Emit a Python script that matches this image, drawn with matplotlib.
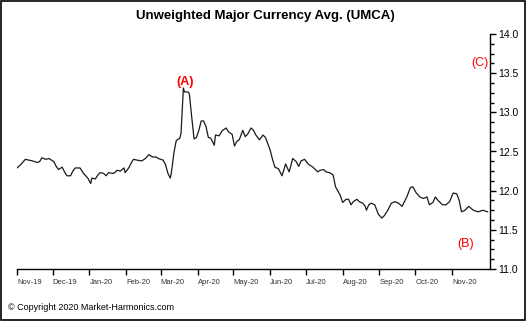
import matplotlib
matplotlib.use("Agg")
import matplotlib.pyplot as plt
import matplotlib.dates as mdates
from matplotlib.ticker import MultipleLocator
import pandas as pd

plt.rcParams['font.family'] = ['Liberation Sans', 'DejaVu Sans']

title = "Unweighted Major Currency Avg. (UMCA)"
copyright_text = "\u00a9 Copyright 2020 Market-Harmonics.com"

dates = [
    "2019-11-01", "2019-11-04", "2019-11-08", "2019-11-11", "2019-11-14", "2019-11-18",
    "2019-11-20", "2019-11-22", "2019-11-25", "2019-11-28", "2019-12-02", "2019-12-04",
    "2019-12-06", "2019-12-09", "2019-12-11", "2019-12-13", "2019-12-16", "2019-12-18",
    "2019-12-20", "2019-12-24", "2019-12-27", "2019-12-30", "2019-12-31", "2020-01-02",
    "2020-01-03", "2020-01-06", "2020-01-08", "2020-01-10", "2020-01-13", "2020-01-15",
    "2020-01-17", "2020-01-21", "2020-01-23", "2020-01-24", "2020-01-27", "2020-01-30",
    "2020-01-31", "2020-02-03", "2020-02-05", "2020-02-07", "2020-02-10", "2020-02-14",
    "2020-02-17", "2020-02-20", "2020-02-23", "2020-02-26", "2020-02-28", "2020-03-03",
    "2020-03-05", "2020-03-07", "2020-03-09", "2020-03-10", "2020-03-12", "2020-03-14",
    "2020-03-17", "2020-03-18", "2020-03-20", "2020-03-21", "2020-03-24", "2020-03-25",
    "2020-03-27", "2020-03-29", "2020-03-31", "2020-04-02", "2020-04-04", "2020-04-06",
    "2020-04-08", "2020-04-10", "2020-04-12", "2020-04-15", "2020-04-16", "2020-04-19",
    "2020-04-22", "2020-04-25", "2020-04-27", "2020-04-30", "2020-05-02", "2020-05-04",
    "2020-05-06", "2020-05-09", "2020-05-11", "2020-05-13", "2020-05-16", "2020-05-18",
    "2020-05-20", "2020-05-23", "2020-05-26", "2020-05-28", "2020-06-01", "2020-06-03",
    "2020-06-05", "2020-06-08", "2020-06-11", "2020-06-14", "2020-06-17", "2020-06-20",
    "2020-06-23", "2020-06-25", "2020-06-27", "2020-06-30", "2020-07-03", "2020-07-07",
    "2020-07-11", "2020-07-13", "2020-07-16", "2020-07-18", "2020-07-21", "2020-07-24",
    "2020-07-26", "2020-07-30", "2020-08-01", "2020-08-04", "2020-08-06", "2020-08-08",
    "2020-08-10", "2020-08-13", "2020-08-15", "2020-08-18", "2020-08-20", "2020-08-21",
    "2020-08-23", "2020-08-25", "2020-08-28", "2020-08-31", "2020-09-03", "2020-09-05",
    "2020-09-08", "2020-09-11", "2020-09-14", "2020-09-17", "2020-09-20", "2020-09-24",
    "2020-09-27", "2020-09-29", "2020-10-02", "2020-10-05", "2020-10-08", "2020-10-11",
    "2020-10-13", "2020-10-16", "2020-10-18", "2020-10-20", "2020-10-24", "2020-10-27",
    "2020-10-30", "2020-11-02", "2020-11-05", "2020-11-07", "2020-11-09", "2020-11-12",
    "2020-11-15", "2020-11-19", "2020-11-23", "2020-11-27", "2020-12-01",
]

umca = [
    12.29, 12.33, 12.40, 12.39, 12.38, 12.36,
    12.37, 12.42, 12.40, 12.41, 12.37, 12.31,
    12.27, 12.30, 12.24, 12.19, 12.19, 12.25,
    12.29, 12.29, 12.22, 12.17, 12.15, 12.09,
    12.16, 12.15, 12.20, 12.23, 12.22, 12.19,
    12.23, 12.22, 12.24, 12.26, 12.25, 12.29,
    12.23, 12.29, 12.35, 12.40, 12.39, 12.38,
    12.41, 12.46, 12.43, 12.43, 12.41, 12.39,
    12.33, 12.22, 12.16, 12.24, 12.48, 12.64,
    12.67, 12.73, 13.31, 13.26, 13.26, 13.24,
    12.94, 12.66, 12.68, 12.77, 12.89, 12.89,
    12.82, 12.68, 12.67, 12.58, 12.71, 12.70,
    12.77, 12.80, 12.75, 12.72, 12.57, 12.63,
    12.65, 12.77, 12.69, 12.72, 12.80, 12.77,
    12.71, 12.65, 12.71, 12.68, 12.52, 12.40,
    12.30, 12.28, 12.19, 12.34, 12.24, 12.41,
    12.37, 12.31, 12.38, 12.40, 12.34, 12.30,
    12.24, 12.26, 12.27, 12.24, 12.23, 12.20,
    12.05, 11.94, 11.85, 11.89, 11.89, 11.82,
    11.86, 11.89, 11.86, 11.84, 11.80, 11.75,
    11.82, 11.84, 11.82, 11.70, 11.65, 11.68,
    11.75, 11.84, 11.86, 11.84, 11.80, 11.92,
    12.04, 12.05, 11.97, 11.92, 11.90, 11.92,
    11.82, 11.85, 11.92, 11.88, 11.82, 11.82,
    11.86, 11.97, 11.96, 11.88, 11.73, 11.75,
    11.80, 11.75, 11.73, 11.75, 11.73,
]

y_ticks = [11.0, 11.5, 12.0, 12.5, 13.0, 13.5, 14.0]
x_ticks = ["2019-11-01", "2019-12-01", "2020-01-01", "2020-02-01", "2020-03-01",
           "2020-04-01", "2020-05-01", "2020-06-01", "2020-07-01", "2020-08-01",
           "2020-09-01", "2020-10-01", "2020-11-01"]
x_range = ["2019-11-01", "2020-12-03"]
labels = ["(A)", "(B)", "(C)"]

x = pd.to_datetime(dates)

fig = plt.figure(figsize=(5.26, 3.21), dpi=100)
ax = fig.add_axes([17 / 526, 1 - 269 / 321, 473 / 526, 235 / 321])

ax.plot(x, umca, color="#1a1a1a", linewidth=0.9)

ax.set_xlim(pd.to_datetime(x_range[0]), pd.to_datetime(x_range[1]))
ax.set_ylim(y_ticks[0], y_ticks[-1])

for s in ["left", "top"]:
    ax.spines[s].set_visible(False)
for s in ["right", "bottom"]:
    ax.spines[s].set_linewidth(1.0)
    ax.spines[s].set_color("black")

ax.yaxis.tick_right()
ax.set_yticks(y_ticks)
ax.set_yticklabels([f"{v:.1f}" for v in y_ticks])
ax.yaxis.set_minor_locator(MultipleLocator(0.125))
ax.tick_params(axis="y", which="major", direction="out", length=4, width=1,
               labelsize=7.5, pad=2, colors="black")
ax.tick_params(axis="y", which="minor", direction="out", length=3, width=1)

ax.set_xticks(pd.to_datetime(x_ticks))
ax.xaxis.set_major_formatter(mdates.DateFormatter("%b-%y"))
ax.tick_params(axis="x", which="major", direction="out", length=4, width=1,
               labelsize=5.5, pad=3)
for lbl in ax.get_xticklabels():
    lbl.set_horizontalalignment("left")
    lbl.set_color("#333333")

ax.text(0.356, 0.796, labels[0], transform=ax.transAxes, color="red",
        fontsize=9, fontweight="bold", ha="center", va="center")
ax.text(0.948, 0.106, labels[1], transform=ax.transAxes, color="red",
        fontsize=9, ha="center", va="center")
ax.text(0.979, 0.877, labels[2], transform=ax.transAxes, color="red",
        fontsize=9, ha="center", va="center")

fig.text(265 / 526, 1 - 16 / 321, title, ha="center", va="center",
         fontsize=9.5, fontweight="bold")
fig.text(8 / 526, 1 - 308 / 321, copyright_text, ha="left", va="center",
         fontsize=6.5)

fig.patches.append(plt.Rectangle((0.001, 0.002), 0.997, 0.995, transform=fig.transFigure,
                                 fill=False, edgecolor="black", linewidth=1.2))

fig.savefig("out.png", dpi=100)
